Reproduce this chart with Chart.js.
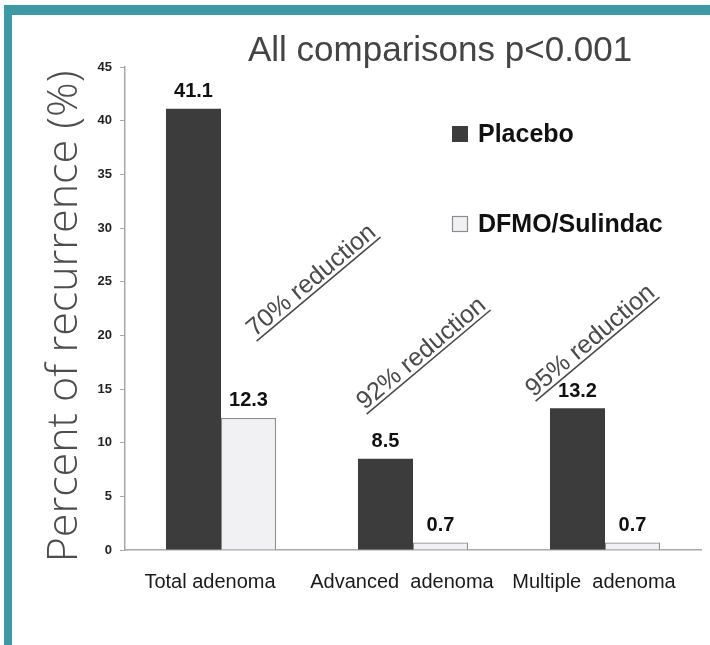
<!DOCTYPE html>
<html>
<head>
<meta charset="utf-8">
<script src="https://cdn.jsdelivr.net/npm/chart.js@4.4.1/dist/chart.umd.min.js"></script>
<style>
  html, body { margin: 0; padding: 0; background: #ffffff; }
  #wrap { position: relative; width: 710px; height: 645px; overflow: hidden; }
  #frame {
    position: absolute; left: 4px; top: 5px; right: -20px; bottom: -20px;
    border-top: 10px solid #3c9aa7; border-left: 8px solid #3c9aa7;
    box-sizing: border-box; pointer-events: none;
  }
  canvas { position: absolute; left: 0; top: 0; }
</style>
</head>
<body>
<div id="wrap">
  <canvas id="chart" width="710" height="645"></canvas>
  <div id="frame"></div>
</div>
<script>
// Adenoma recurrence by outcome type
const categories = ['Total adenoma', 'Advanced  adenoma', 'Multiple  adenoma'];
const placebo = [41.1, 8.5, 13.2];
const dfmoSulindac = [12.3, 0.7, 0.7];
const seriesNames = ['Placebo', 'DFMO/Sulindac'];
const reductionLabels = ['70% reduction', '92% reduction', '95% reduction'];
const chartTitle = 'All comparisons p<0.001';
const yAxisTitle = 'Percent of recurrence (%)';

// Bar value labels drawn above each bar
const valueLabels = {
  id: 'valueLabels',
  afterDatasetsDraw(chart) {
    const ctx = chart.ctx;
    ctx.save();
    ctx.font = 'bold 20px "Liberation Sans", Arial, sans-serif';
    ctx.fillStyle = '#111111';
    ctx.textAlign = 'center';
    ctx.textBaseline = 'bottom';
    chart.data.datasets.forEach((ds, di) => {
      chart.getDatasetMeta(di).data.forEach((bar, i) => {
        ctx.fillText(ds.data[i].toFixed(1), bar.x, bar.y - 7);
      });
    });
    ctx.restore();
  }
};

// Underlined, slanted "reduction" notes anchored to the scales
const reductionNotes = {
  id: 'reductionNotes',
  afterDatasetsDraw(chart, args, opts) {
    const ctx = chart.ctx;
    const xs = chart.scales.x, ys = chart.scales.y;
    ctx.save();
    ctx.font = '25px "Liberation Sans", Arial, sans-serif';
    ctx.fillStyle = '#4a4a4a';
    ctx.strokeStyle = '#4a4a4a';
    ctx.lineWidth = 1.6;
    reductionLabels.forEach((txt, i) => {
      const a = opts.anchors[i];
      const x = xs.getPixelForValue(i) + a.dx;
      const y = ys.getPixelForValue(a.value);
      ctx.save();
      ctx.translate(x, y);
      ctx.rotate(-a.angle * Math.PI / 180);
      ctx.textAlign = 'center';
      ctx.textBaseline = 'alphabetic';
      ctx.fillText(txt, 0, 0);
      const w = ctx.measureText(txt).width;
      ctx.beginPath();
      ctx.moveTo(-w / 2 - 1, 4);
      ctx.lineTo(w / 2 + 1, 4);
      ctx.stroke();
      ctx.restore();
    });
    ctx.restore();
  }
};

// Heading, vertical axis title and legend
const headingAndLegend = {
  id: 'headingAndLegend',
  afterDraw(chart) {
    const ctx = chart.ctx;
    const area = chart.chartArea;
    ctx.save();
    ctx.font = '35px "Liberation Sans", Arial, sans-serif';
    ctx.fillStyle = '#444444';
    ctx.textAlign = 'left';
    ctx.textBaseline = 'alphabetic';
    ctx.fillText(chartTitle, 248, 61);

    // vertical axis title, baseline facing the axis
    ctx.save();
    ctx.translate(77, (area.top + area.bottom) / 2 + 8);
    ctx.rotate(-Math.PI / 2);
    ctx.font = '300 43px "Open Sans", "DejaVu Sans", sans-serif';
    ctx.fillStyle = '#4d4d4d';
    ctx.textAlign = 'center';
    ctx.fillText(yAxisTitle, 0, 0);
    ctx.restore();

    ctx.font = 'bold 25px "Liberation Sans", Arial, sans-serif';
    ctx.textBaseline = 'middle';
    const lx = 452, rows = [134, 224];
    chart.data.datasets.forEach((ds, i) => {
      const y = rows[i];
      ctx.fillStyle = ds.backgroundColor;
      ctx.fillRect(lx, y - 8, 16, 16);
      if (ds.borderWidth) {
        ctx.strokeStyle = ds.borderColor;
        ctx.lineWidth = 1.2;
        ctx.strokeRect(lx + 0.5, y - 7.5, 15, 15);
      }
      ctx.fillStyle = '#111111';
      ctx.fillText(ds.label, lx + 26, y + 1);
    });
    ctx.restore();
  }
};

new Chart(document.getElementById('chart'), {
  type: 'bar',
  data: {
    labels: categories,
    datasets: [
      {
        label: seriesNames[0],
        data: placebo,
        backgroundColor: '#3c3c3c',
        borderColor: '#3c3c3c',
        borderWidth: 0
      },
      {
        label: seriesNames[1],
        data: dfmoSulindac,
        backgroundColor: '#f1f1f3',
        borderColor: '#8c8c8c',
        borderWidth: 1.2
      }
    ]
  },
  plugins: [valueLabels, reductionNotes, headingAndLegend],
  options: {
    responsive: false,
    animation: false,
    layout: { padding: { left: 14, right: 9, top: 67, bottom: 0 } },
    categoryPercentage: 0.573,
    barPercentage: 1.0,
    plugins: {
      legend: { display: false },
      tooltip: { enabled: false },
      reductionNotes: {
        anchors: [
          { dx: 95, value: 24.6, angle: 40 },
          { dx: 13, value: 17.8, angle: 40 },
          { dx: -10, value: 19.0, angle: 40 }
        ]
      }
    },
    scales: {
      x: {
        grid: { display: true, drawOnChartArea: false, drawTicks: false, color: '#a8a8a8' },
        border: { color: '#a8a8a8', width: 1.5 },
        ticks: {
          color: '#1a1a1a',
          font: { size: 20, family: '"Liberation Sans", Arial, sans-serif' },
          padding: 20,
          labelOffset: -11,
          maxRotation: 0,
          autoSkip: false
        },
        afterFit(s) { s.height = 95; }
      },
      y: {
        min: 0,
        max: 45,
        ticks: {
          stepSize: 5,
          color: '#222222',
          font: { size: 13, weight: 'bold', family: '"Liberation Sans", Arial, sans-serif' },
          padding: 8
        },
        grid: { drawOnChartArea: false, drawTicks: true, tickLength: 5, color: '#a8a8a8' },
        border: { color: '#a8a8a8', width: 1.5 },
        afterFit(s) { s.width = 111; }
      }
    }
  }
});
</script>
</body>
</html>
